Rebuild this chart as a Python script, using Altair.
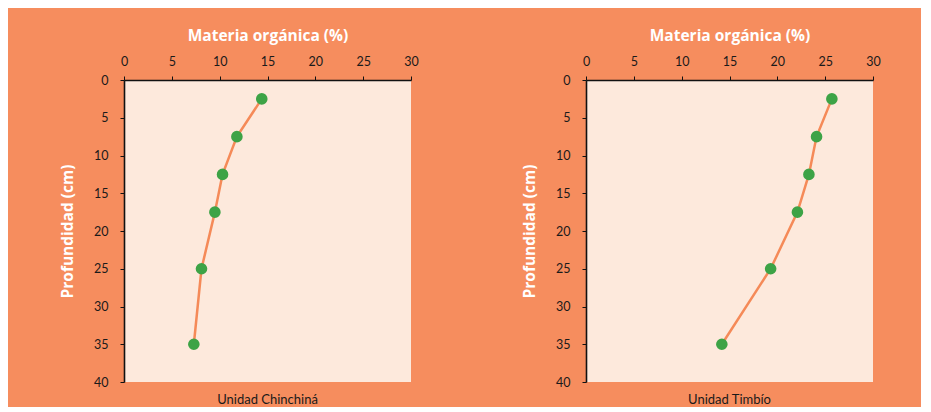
import altair as alt
import pandas as pd

depth = [2.5, 7.5, 12.5, 17.5, 25, 35]
mo_chinchina = [14.4, 11.8, 10.3, 9.5, 8.1, 7.3]
mo_timbio = [25.7, 24.1, 23.3, 22.1, 19.3, 14.2]
units = ["Unidad Chinchiná", "Unidad Timbío"]
x_ticks = [0, 5, 10, 15, 20, 25, 30]
y_ticks = [0, 5, 10, 15, 20, 25, 30, 35, 40]

BG = "#F68D5E"
PLOT = "#FDE9DC"
LINE = "#F58A58"
DOT = "#3DA346"


def panel(values, unit):
    df = pd.DataFrame({"depth": depth, "mo": values})
    x = alt.X(
        "mo:Q",
        scale=alt.Scale(domain=[0, 30], nice=False),
        axis=alt.Axis(
            orient="top", values=x_ticks, title="Materia orgánica (%)",
            grid=False, labelFlush=False, tickSize=4, labelPadding=8,
            titlePadding=12, domainColor="#111111", domainWidth=1.6,
            tickColor="#111111", labelColor="#1a1a1a", labelFont="Lato",
            labelFontSize=12.5, titleFont="Open Sans", titleFontSize=15.5,
            titleFontWeight="bold", titleColor="white",
        ),
    )
    y = alt.Y(
        "depth:Q",
        scale=alt.Scale(domain=[0, 40], reverse=True, nice=False),
        axis=alt.Axis(
            values=y_ticks, title="Profundidad (cm)", grid=False,
            labelFlush=False, tickSize=4, labelPadding=12, titlePadding=18,
            domainColor="#111111", domainWidth=1.6, tickColor="#111111",
            labelColor="#1a1a1a", labelFont="Lato", labelFontSize=12.5,
            titleFont="Open Sans", titleFontSize=15.5, titleFontWeight="bold",
            titleColor="white",
        ),
    )
    base = alt.Chart(df)
    line = base.mark_line(color=LINE, strokeWidth=2.5).encode(
        x=x, y=y, order=alt.Order("depth:Q")
    )
    pts = base.mark_circle(color=DOT, size=135, opacity=1).encode(x=x, y=y)
    return alt.layer(line, pts).properties(
        width=287,
        height=302,
        title=alt.TitleParams(
            text=unit, orient="bottom", fontSize=13, font="Lato",
            fontWeight="normal", color="#1a1a1a", offset=5,
        ),
    )


chart = (
    alt.hconcat(panel(mo_chinchina, units[0]), panel(mo_timbio, units[1]), spacing=103)
    .properties(
        background=BG,
        padding={"left": 52, "top": 20, "right": 40, "bottom": 0},
    )
    .configure_view(fill=PLOT, strokeWidth=0)
)

chart.save("out.html", embed_options={"renderer": "svg", "actions": False})
